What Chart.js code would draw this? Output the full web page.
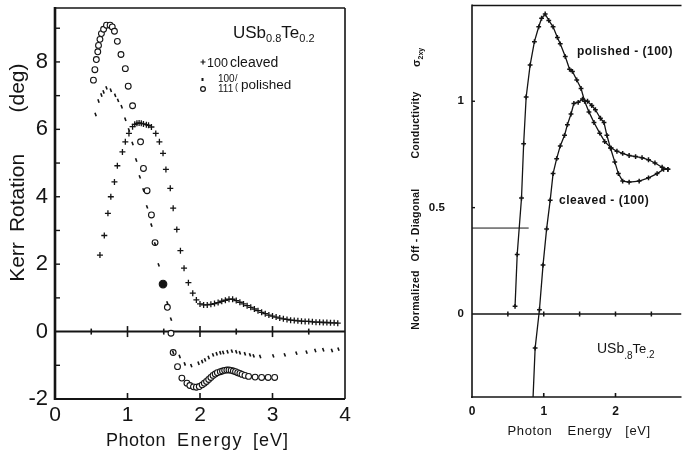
<!DOCTYPE html>
<html>
<head>
<meta charset="utf-8">
<script src="https://cdn.jsdelivr.net/npm/chart.js@4/dist/chart.umd.min.js"></script>
<style>
  html, body { margin: 0; background: #fff; }
  #wrap { position: relative; width: 687px; height: 454px; overflow: hidden; }
  canvas { position: absolute; top: 0; }
  #kerr { left: 0; }
  #sxy { left: 395px; }
</style>
</head>
<body>
<div id="wrap">
  <canvas id="kerr" width="395" height="454"></canvas>
  <canvas id="sxy" width="292" height="454"></canvas>
</div>
<script>
const FAMILY = '"Liberation Sans", Arial, Helvetica, sans-serif';
const INK = '#141414';

// --- Kerr rotation (deg) vs photon energy (eV) ---
const cleavedE = [0.62, 0.68, 0.73, 0.77, 0.82, 0.86, 0.93, 0.97, 1.02, 1.07, 1.10, 1.13, 1.16, 1.19, 1.22, 1.26, 1.29,
  1.33, 1.39, 1.44, 1.49, 1.53, 1.59, 1.63, 1.68, 1.73, 1.78, 1.84, 1.90, 1.95, 2.00, 2.05, 2.10, 2.15, 2.20,
  2.25, 2.30, 2.35, 2.40, 2.45, 2.50, 2.55, 2.60, 2.65, 2.70, 2.75, 2.80, 2.85, 2.90, 2.95, 3.00, 3.05, 3.10,
  3.15, 3.20, 3.25, 3.30, 3.35, 3.40, 3.45, 3.50, 3.55, 3.60, 3.65, 3.70, 3.75, 3.80, 3.85, 3.90];
const cleavedKerr = [2.27, 2.85, 3.51, 4.00, 4.44, 4.92, 5.33, 5.63, 5.88, 6.08, 6.15, 6.18, 6.19, 6.18, 6.16, 6.14, 6.12,
  6.07, 5.88, 5.63, 5.29, 4.81, 4.25, 3.66, 3.03, 2.40, 1.88, 1.45, 1.14, 0.94, 0.82, 0.79, 0.79, 0.81, 0.83,
  0.86, 0.90, 0.93, 0.96, 0.96, 0.92, 0.87, 0.82, 0.77, 0.72, 0.67, 0.62, 0.57, 0.53, 0.49, 0.46, 0.43, 0.40,
  0.38, 0.36, 0.34, 0.33, 0.32, 0.31, 0.30, 0.30, 0.29, 0.28, 0.28, 0.27, 0.27, 0.26, 0.26, 0.25];

const pol100E = [0.56, 0.60, 0.64, 0.67, 0.71, 0.77, 0.83, 0.87, 0.92, 0.97, 1.02, 1.07, 1.12, 1.17, 1.22, 1.27, 1.33,
  1.38, 1.43, 1.49, 1.55, 1.60, 1.63, 1.72, 1.79, 1.88, 1.98, 2.03, 2.07, 2.12, 2.18, 2.23, 2.28, 2.32, 2.38,
  2.44, 2.50, 2.55, 2.62, 2.69, 2.74, 2.83, 3.01, 3.17, 3.33, 3.47, 3.59, 3.70, 3.82, 3.91];
const pol100Kerr = [6.44, 6.84, 7.02, 7.11, 7.23, 7.16, 7.01, 6.86, 6.67, 6.30, 5.98, 5.58, 5.09, 4.59, 4.20, 3.70, 3.16,
  2.60, 1.98, 1.41, 0.85, 0.37, -0.62, -0.74, -0.96, -1.01, -0.94, -0.89, -0.84, -0.77, -0.69, -0.66, -0.63, -0.62, -0.60,
  -0.58, -0.60, -0.63, -0.66, -0.69, -0.72, -0.74, -0.72, -0.69, -0.64, -0.61, -0.56, -0.54, -0.56, -0.52];

const pol111E = [0.53, 0.55, 0.57, 0.59, 0.60, 0.62, 0.64, 0.67, 0.71, 0.76, 0.79, 0.82, 0.86, 0.91, 0.97, 1.01, 1.07,
  1.18, 1.22, 1.27, 1.33, 1.38, 1.49, 1.55, 1.60, 1.63, 1.69, 1.75, 1.82, 1.86, 1.91, 1.95, 1.99, 2.03, 2.06,
  2.09, 2.12, 2.15, 2.18, 2.21, 2.24, 2.28, 2.31, 2.34, 2.37, 2.40, 2.43, 2.46, 2.49, 2.52, 2.55, 2.58, 2.62,
  2.67, 2.76, 2.85, 2.94, 3.03];
const pol111Kerr = [7.46, 7.77, 8.07, 8.30, 8.49, 8.67, 8.84, 8.97, 9.09, 9.09, 9.04, 8.91, 8.61, 8.22, 7.80, 7.28, 6.70,
  5.63, 4.84, 4.18, 3.46, 2.64, 1.41, 0.72, -0.05, -0.62, -1.04, -1.38, -1.53, -1.60, -1.64, -1.65, -1.63, -1.58, -1.53,
  -1.48, -1.42, -1.36, -1.30, -1.26, -1.22, -1.19, -1.17, -1.15, -1.14, -1.14, -1.15, -1.17, -1.19, -1.22, -1.24, -1.27, -1.30,
  -1.33, -1.35, -1.36, -1.36, -1.36];

const kerrZeroMarks = [0, 0.5, 1, 1.5, 2, 2.5, 3, 3.5, 4];

// --- normalized off-diagonal conductivity sigma_2xy ---
const sxyPolishedE = [0.60, 0.63, 0.69, 0.72, 0.755, 0.81, 0.87, 0.93, 0.97, 1.02, 1.07, 1.13, 1.19, 1.23, 1.30, 1.36,
  1.40, 1.46, 1.52, 1.57, 1.63, 1.70, 1.78, 1.85, 1.94, 2.02, 2.10, 2.19, 2.28, 2.37, 2.46, 2.55, 2.65, 2.73];
const sxyPolished = [0.036, 0.28, 0.545, 0.80, 1.02, 1.17, 1.28, 1.35, 1.39, 1.41, 1.38, 1.35, 1.30, 1.27, 1.21, 1.15,
  1.14, 1.10, 1.06, 1.00, 0.95, 0.90, 0.85, 0.81, 0.78, 0.765, 0.755, 0.745, 0.74, 0.735, 0.725, 0.71, 0.69, 0.68];

const sxyCleavedE = [0.85, 0.88, 0.94, 0.99, 1.04, 1.09, 1.13, 1.18, 1.23, 1.29, 1.33, 1.38, 1.42, 1.48, 1.54, 1.61,
  1.67, 1.72, 1.79, 1.84, 1.88, 1.93, 1.99, 2.04, 2.10, 2.19, 2.33, 2.46, 2.58, 2.67, 2.73];
const sxyCleaved = [-0.40, -0.16, 0.02, 0.23, 0.40, 0.535, 0.66, 0.73, 0.79, 0.84, 0.89, 0.94, 0.99, 0.995, 1.01, 1.00,
  0.98, 0.96, 0.92, 0.90, 0.84, 0.78, 0.715, 0.66, 0.625, 0.62, 0.625, 0.64, 0.66, 0.68, 0.68];

const sxyZeroMarks = [0, 0.5, 1, 1.5, 2, 2.5, 2.92];
const sxyGuideE = [0, 0.79];
const sxyGuide = [0.404, 0.404];

const pts = (xs, ys) => xs.map((x, i) => ({ x, y: ys[i] }));

function font(size, weight) {
  return (weight ? weight + ' ' : '') + size + 'px ' + FAMILY;
}

// fixed-size axis boxes so the plot rectangles sit where they should
function fixBox(size) {
  return scale => {
    if (scale.isHorizontal()) scale.height = size; else scale.width = size;
    scale.paddingTop = scale.paddingBottom = scale.paddingLeft = scale.paddingRight = 0;
  };
}

function framePlugin(w) {
  return {
    id: 'frame',
    beforeDatasetsDraw(chart) {
      const { ctx, chartArea: a } = chart;
      ctx.save();
      ctx.strokeStyle = INK;
      const seg = (lw, x1, y1, x2, y2) => {
        if (!lw) return;
        ctx.lineWidth = lw;
        ctx.beginPath(); ctx.moveTo(x1, y1); ctx.lineTo(x2, y2); ctx.stroke();
      };
      seg(w.left, a.left, a.top - 1, a.left, a.bottom + 1);
      seg(w.top, a.left, a.top, a.right, a.top);
      seg(w.right, a.right, a.top, a.right, a.bottom);
      seg(w.bottom, a.left - 1, a.bottom, a.right, a.bottom);
      // short inward tick marks
      const xs = chart.scales.x, ys = chart.scales.y;
      (w.yTicks || []).forEach(v => {
        const py = ys.getPixelForValue(v);
        seg(1.4, a.left, py, a.left + w.tickLen, py);
      });
      (w.xTicks || []).forEach(v => {
        const px = xs.getPixelForValue(v);
        seg(1.6, px, a.bottom, px, a.bottom - w.tickLen - 1);
      });
      ctx.restore();
    }
  };
}

function textPlugin(draw) {
  return {
    id: 'texts',
    afterDraw(chart) {
      const ctx = chart.ctx;
      ctx.save();
      ctx.fillStyle = INK;
      ctx.strokeStyle = INK;
      draw(ctx);
      ctx.restore();
    }
  };
}

// draws a run of text pieces (for sub-/superscripts)
function runs(ctx, parts, x, y) {
  ctx.textAlign = 'left';
  ctx.textBaseline = 'alphabetic';
  parts.forEach(p => {
    ctx.font = p.f;
    ctx.fillText(p.t, x, y + (p.dy || 0));
    x += ctx.measureText(p.t).width + (p.gap || 0);
  });
}

function word(ctx, t, x, y, f, spacing) {
  ctx.font = f;
  ctx.letterSpacing = (spacing || 0) + 'px';
  ctx.textAlign = 'center';
  ctx.textBaseline = 'alphabetic';
  ctx.fillText(t, x, y);
  ctx.letterSpacing = '0px';
}

function vword(ctx, t, x, yc, f, spacing) {
  ctx.save();
  ctx.translate(x, yc);
  ctx.rotate(-Math.PI / 2);
  ctx.font = f;
  ctx.letterSpacing = (spacing || 0) + 'px';
  ctx.textAlign = 'center';
  ctx.textBaseline = 'middle';
  ctx.fillText(t, 0, 0);
  ctx.restore();
}

const baseOptions = {
  responsive: false,
  animation: false,
  devicePixelRatio: 1,
  events: [],
  plugins: { legend: { display: false }, tooltip: { enabled: false } }
};

const noGrid = { display: false, drawTicks: false };

// ---------- left panel ----------
new Chart(document.getElementById('kerr'), {
  type: 'scatter',
  data: {
    datasets: [
      {
        label: '100 cleaved',
        data: pts(cleavedE, cleavedKerr),
        pointStyle: 'cross',
        pointRadius: 3,
        pointBorderColor: INK,
        pointBorderWidth: 1.3
      },
      {
        label: '100 polished',
        data: pts(pol100E, pol100Kerr),
        pointStyle: 'line',
        pointRotation: 70,
        pointRadius: 1.8,
        pointBorderColor: INK,
        pointBorderWidth: 1.6
      },
      {
        label: '111 polished',
        data: pts(pol111E, pol111Kerr),
        pointStyle: 'circle',
        pointRadius: c => (c.raw && c.raw.x === 1.49 ? 3.8 : 2.9),
        pointBackgroundColor: c => (c.raw && c.raw.x === 1.49 ? INK : '#fff'),
        pointBorderColor: INK,
        pointBorderWidth: 1.1
      },
      {
        label: 'zero',
        data: kerrZeroMarks.map(x => ({ x, y: 0 })),
        showLine: true,
        borderColor: INK,
        borderWidth: 2,
        pointStyle: 'line',
        pointRotation: 90,
        pointRadius: c => {
          const x = c.raw ? c.raw.x : 0;
          if (x === 0 || x === 4) return 0;
          return Number.isInteger(x) ? 5.5 : 3;
        },
        pointBorderColor: INK,
        pointBorderWidth: 1.6
      }
    ]
  },
  options: {
    ...baseOptions,
    layout: { padding: { top: 8, right: 50, left: 0, bottom: 0 } },
    scales: {
      x: {
        type: 'linear', min: 0, max: 4,
        afterFit: fixBox(55),
        grid: noGrid, border: { display: false },
        ticks: { stepSize: 1, includeBounds: false, padding: 4, color: INK, font: { family: FAMILY, size: 21 }, maxRotation: 0 }
      },
      y: {
        type: 'linear', min: -2, max: 9.6,
        afterFit: fixBox(55),
        grid: noGrid, border: { display: false },
        ticks: {
          stepSize: 1, includeBounds: false, padding: 7, color: INK,
          font: { family: FAMILY, size: 22 },
          callback: v => (v % 2 === 0 ? String(v) : null)
        }
      }
    }
  },
  plugins: [
    framePlugin({ left: 2.6, top: 1.6, right: 1.6, bottom: 2.2, tickLen: 5,
      yTicks: [-1, 1, 2, 3, 4, 5, 6, 7, 8, 9], xTicks: [1, 2, 3] }),
    textPlugin(ctx => {
      // axis titles
      vword(ctx, 'Kerr', 18, 262, font(21));
      vword(ctx, 'Rotation', 18, 193, font(21));
      vword(ctx, '(deg)', 18, 88, font(21));
      word(ctx, 'Photon', 136, 446, font(18), 0.5);
      word(ctx, 'Energy', 210, 446, font(18), 1.5);
      word(ctx, '[eV]', 271, 446, font(18), 1);
      // compound name
      runs(ctx, [
        { t: 'USb', f: font(17) },
        { t: '0.8', f: font(11), dy: 4 },
        { t: 'Te', f: font(17) },
        { t: '0.2', f: font(11), dy: 4 }
      ], 233, 38);
      // sample key
      ctx.lineWidth = 1.2;
      ctx.beginPath();
      ctx.moveTo(200.5, 62); ctx.lineTo(205.5, 62);
      ctx.moveTo(203, 59.5); ctx.lineTo(203, 64.5);
      ctx.stroke();
      ctx.fillRect(201.5, 78, 2, 3);
      ctx.beginPath(); ctx.arc(203, 89, 2.4, 0, Math.PI * 2); ctx.stroke();
      runs(ctx, [{ t: '100', f: font(12.5) }], 207, 67);
      runs(ctx, [{ t: 'cleaved', f: font(14) }], 230, 67);
      runs(ctx, [{ t: '100', f: font(10) }], 218, 82);
      runs(ctx, [{ t: '111', f: font(10) }], 218, 91.5);
      runs(ctx, [{ t: '/', f: font(9) }], 235, 81);
      runs(ctx, [{ t: '(', f: font(9) }], 235, 90);
      runs(ctx, [{ t: 'polished', f: font(13.5) }], 241, 89);
    })
  ]
});

// ---------- right panel ----------
const OX = 395;
new Chart(document.getElementById('sxy'), {
  type: 'scatter',
  data: {
    datasets: [
      {
        label: 'polished - (100)',
        data: pts(sxyPolishedE, sxyPolished),
        showLine: true,
        borderColor: INK,
        borderWidth: 1.3,
        pointStyle: 'cross',
        pointRadius: 2.4,
        pointBorderColor: INK,
        pointBorderWidth: 1.5
      },
      {
        label: 'cleaved - (100)',
        data: pts(sxyCleavedE, sxyCleaved),
        showLine: true,
        borderColor: INK,
        borderWidth: 1.3,
        pointStyle: 'cross',
        pointRadius: c => (c.dataIndex === 0 ? 0 : 2.4),
        pointBorderColor: INK,
        pointBorderWidth: 1.5
      },
      {
        label: 'zero',
        data: sxyZeroMarks.map(x => ({ x, y: 0 })),
        showLine: true,
        borderColor: INK,
        borderWidth: 1.4,
        pointStyle: 'line',
        pointRotation: 90,
        pointRadius: c => {
          const x = c.raw ? c.raw.x : 0;
          return (x === 0 || x > 2.6) ? 0 : 2.5;
        },
        pointBorderColor: INK,
        pointBorderWidth: 1.5
      },
      {
        label: 'guide',
        data: pts(sxyGuideE, sxyGuide),
        showLine: true,
        borderColor: INK,
        borderWidth: 1,
        pointRadius: 0
      }
    ]
  },
  options: {
    ...baseOptions,
    layout: { padding: { top: 5, right: 0, left: 0, bottom: 0 } },
    scales: {
      x: {
        type: 'linear', min: 0, max: 2.92,
        afterFit: fixBox(57),
        grid: noGrid, border: { display: false },
        ticks: { stepSize: 1, includeBounds: false, padding: 7, color: INK, font: { family: FAMILY, size: 12, weight: 'bold' }, maxRotation: 0 }
      },
      y: {
        type: 'linear', min: -0.39, max: 1.45,
        afterFit: fixBox(77),
        grid: noGrid, border: { display: false },
        ticks: {
          stepSize: 0.5, includeBounds: false, padding: 8, color: INK,
          font: { family: FAMILY, size: 11.5, weight: 'bold' },
          callback: v => (v === 0.5 ? '0.5      ' : String(v))
        }
      }
    }
  },
  plugins: [
    framePlugin({ left: 1.6, top: 1.6, right: 0, bottom: 1.6, tickLen: 3, yTicks: [0.5, 1], xTicks: [1, 2] }),
    textPlugin(ctx => {
      // vertical axis title, reading upwards
      const vf = font(10.5, 'bold');
      vword(ctx, 'Normalized', 416 - OX, 300, vf, 0.3);
      vword(ctx, 'Off - Diagonal', 416 - OX, 225, vf, 0.3);
      vword(ctx, 'Conductivity', 416 - OX, 125, vf, 0.3);
      ctx.save();
      ctx.translate(416 - OX, 67);
      ctx.rotate(-Math.PI / 2);
      runs(ctx, [{ t: 'σ', f: font(11, 'bold') }, { t: '2xy', f: font(7, 'bold'), dy: 3 }], 0, 4);
      ctx.restore();

      word(ctx, 'Photon', 530 - OX, 435, font(13), 0.6);
      word(ctx, 'Energy', 590 - OX, 435, font(13), 0.6);
      word(ctx, '[eV]', 638 - OX, 435, font(13), 0.6);

      ctx.letterSpacing = '0.5px';
      runs(ctx, [{ t: 'polished - (100)', f: font(12, 'bold') }], 577 - OX, 55);
      runs(ctx, [{ t: 'cleaved - (100)', f: font(12, 'bold') }], 559 - OX, 204);
      ctx.letterSpacing = '0px';
      runs(ctx, [
        { t: 'USb', f: font(14) },
        { t: '.8', f: font(10), dy: 6 },
        { t: 'Te', f: font(13) },
        { t: '.2', f: font(10), dy: 5 }
      ], 597 - OX, 353);
    })
  ]
});
</script>
</body>
</html>
